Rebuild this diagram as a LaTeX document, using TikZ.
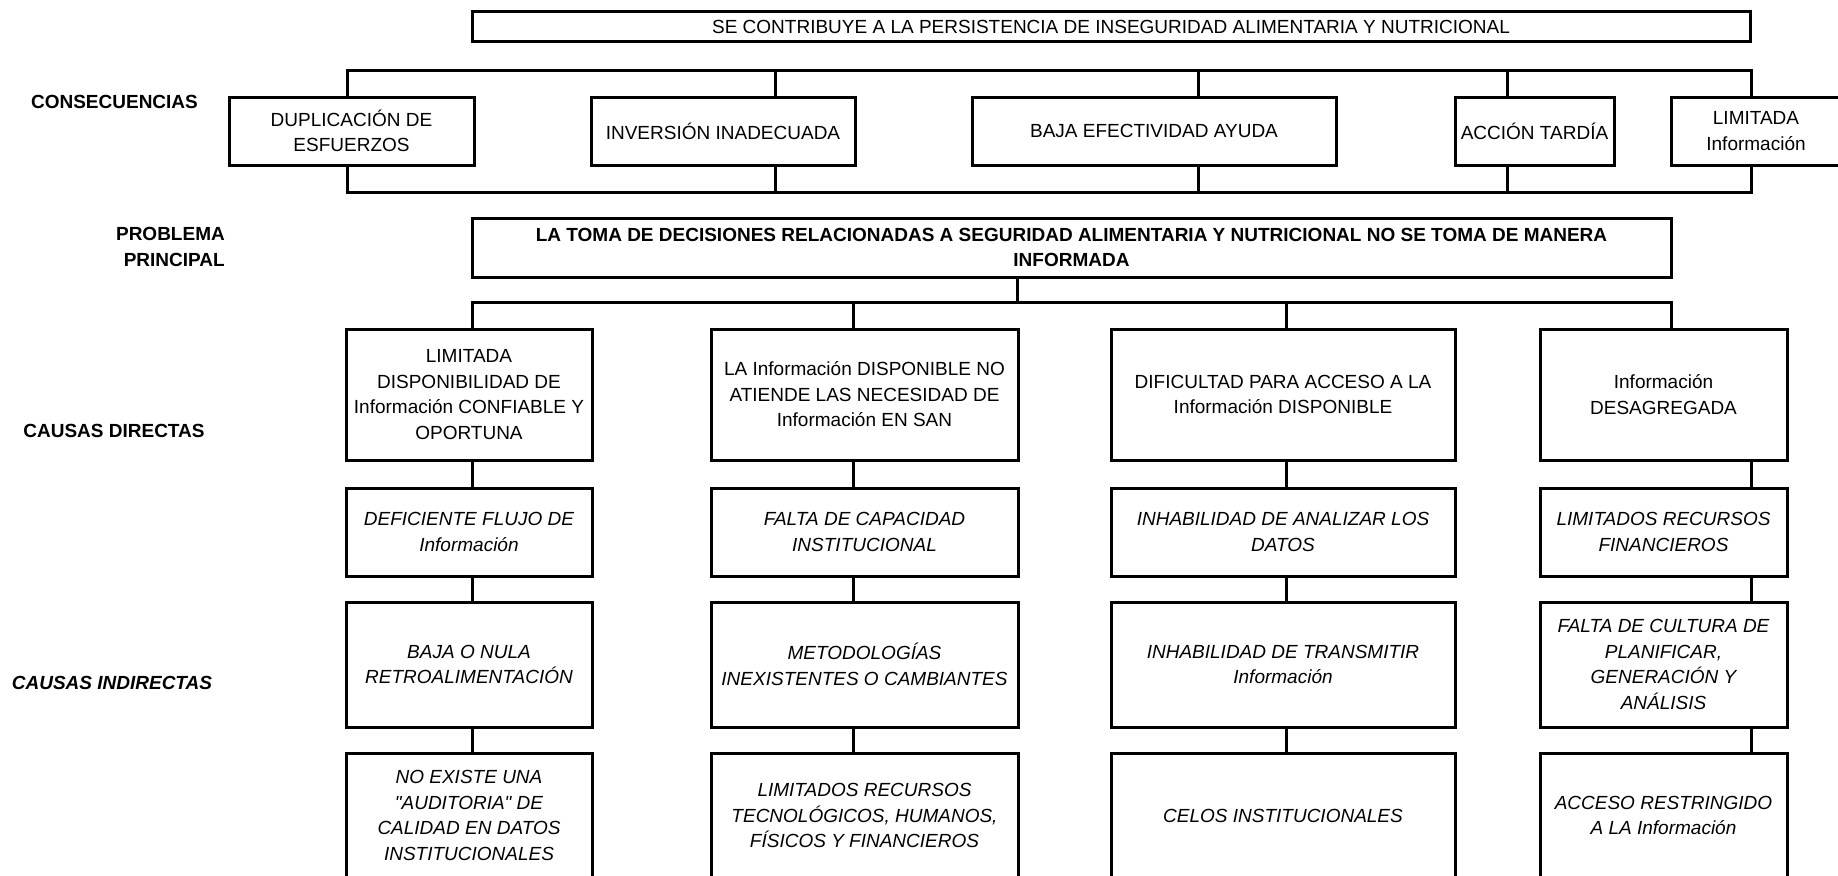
\documentclass[tikz,border=0pt]{standalone}
\usepackage{fontspec}
\setmainfont{Liberation Sans}
\newfontfamily\dgfam{Liberation Sans}
\newcommand{\dgfont}{\dgfam\fontsize{19pt}{25.5pt}\selectfont}
\begin{document}
\begin{tikzpicture}[x=1pt,y=-1pt,
  box/.style={draw, line width=3pt, inner sep=0pt, align=center, font=\dgfont},
  ibox/.style={box, font=\dgfont\itshape},
  bbox/.style={box, font=\dgfont\bfseries},
  lbl/.style={inner sep=0pt, align=center, font=\dgfont\bfseries},
  conn/.style={line width=3pt, line join=miter},
  cons/.style={box, minimum height=68pt},
  r1/.style={box, minimum height=131pt},
  r2/.style={ibox, minimum height=88pt},
  r3/.style={ibox, minimum height=125pt},
  r4/.style={ibox, minimum height=125pt},
  w1/.style={minimum width=246pt},
  w2/.style={minimum width=307pt},
  w3/.style={minimum width=344pt},
  w4/.style={minimum width=247pt}]
\useasboundingbox (0,0) rectangle (1838,875);
\clip (0,0) rectangle (1838,875);

% top consequence
\node[box, minimum width=1278pt, minimum height=30pt] (top) at (1111,27)
  {SE CONTRIBUYE A LA PERSISTENCIA DE INSEGURIDAD ALIMENTARIA Y NUTRICIONAL};

% consequences
\node[cons, minimum width=245pt] (dup)  at (351.5,131) {DUPLICACIÓN DE\\ESFUERZOS};
\node[cons, minimum width=264pt] (inv)  at (723,131)   {INVERSIÓN INADECUADA};
\node[cons, minimum width=364pt] (baja) at (1154,131)  {BAJA EFECTIVIDAD AYUDA};
\node[cons, minimum width=159pt] (acc)  at (1534.5,131){ACCIÓN TARDÍA};
\node[cons, minimum width=170pt] (lim)  at (1756,131)  {LIMITADA\\Información};

% main problem
\node[bbox, minimum width=1199pt, minimum height=59pt] (prob) at (1071.5,247.5)
  {LA TOMA DE DECISIONES RELACIONADAS A SEGURIDAD ALIMENTARIA Y NUTRICIONAL NO SE TOMA DE MANERA\\INFORMADA};

% direct causes
\node[r1, w1] (d1) at (469,394.5)   {LIMITADA\\DISPONIBILIDAD DE\\Información CONFIABLE Y\\OPORTUNA};
\node[r1, w2] (d2) at (864.5,394.5) {LA Información DISPONIBLE NO\\ATIENDE LAS NECESIDAD DE\\Información EN SAN};
\node[r1, w3] (d3) at (1283,394.5)  {DIFICULTAD PARA ACCESO A LA\\Información DISPONIBLE};
\node[r1, w4] (d4) at (1663.5,394.5){Información\\DESAGREGADA};

% indirect causes row 2
\node[r2, w1] (e1) at (469,532)   {DEFICIENTE FLUJO DE\\Información};
\node[r2, w2] (e2) at (864.5,532) {FALTA DE CAPACIDAD\\INSTITUCIONAL};
\node[r2, w3] (e3) at (1283,532)  {INHABILIDAD DE ANALIZAR LOS\\DATOS};
\node[r2, w4] (e4) at (1663.5,532){LIMITADOS RECURSOS\\FINANCIEROS};

% row 3
\node[r3, w1] (f1) at (469,664.5)   {BAJA O NULA\\RETROALIMENTACIÓN};
\node[r3, w2] (f2) at (864.5,664.5) {METODOLOGÍAS\\INEXISTENTES O CAMBIANTES};
\node[r3, w3] (f3) at (1283,664.5)  {INHABILIDAD DE TRANSMITIR\\Información};
\node[r3, w4] (f4) at (1663.5,664.5){FALTA DE CULTURA DE\\PLANIFICAR,\\GENERACIÓN Y\\ANÁLISIS};

% row 4
\node[r4, w1] (g1) at (469,815.5)   {NO EXISTE UNA\\"AUDITORIA" DE\\CALIDAD EN DATOS\\INSTITUCIONALES};
\node[r4, w2] (g2) at (864.5,815.5) {LIMITADOS RECURSOS\\TECNOLÓGICOS, HUMANOS,\\FÍSICOS Y FINANCIEROS};
\node[r4, w3] (g3) at (1283,815.5)  {CELOS INSTITUCIONALES};
\node[r4, w4] (g4) at (1663.5,815.5){ACCESO RESTRINGIDO\\A LA Información};

% row labels
\node[lbl] (lcons) at (114.5,102) {CONSECUENCIAS};
\node[lbl, align=right, anchor=east] (lprob) at (225,247) {PROBLEMA\\PRINCIPAL};
\node[lbl] (ldir) at (114,431) {CAUSAS DIRECTAS};
\node[lbl, font=\dgfont\bfseries\itshape] (lind) at (112,683) {CAUSAS INDIRECTAS};

% consequence brackets
\coordinate (cu1) at (347,70);
\coordinate (cu2) at (775,70);
\coordinate (cu3) at (1198,70);
\coordinate (cu4) at (1507,70);
\coordinate (cu5) at (1751,70);
\coordinate (cl1) at (347,192);
\coordinate (cl2) at (775,192);
\coordinate (cl3) at (1198,192);
\coordinate (cl4) at (1507,192);
\coordinate (cl5) at (1751,192);
\draw[conn] (cu1 |- dup.north) -- (cu1) -- (cu5) -- (cu5 |- lim.north);
\draw[conn] (cu2) -- (cu2 |- inv.north);
\draw[conn] (cu3) -- (cu3 |- baja.north);
\draw[conn] (cu4) -- (cu4 |- acc.north);
\draw[conn] (cl1 |- dup.south) -- (cl1) -- (cl5) -- (cl5 |- lim.south);
\draw[conn] (cl2) -- (cl2 |- inv.south);
\draw[conn] (cl3) -- (cl3 |- baja.south);
\draw[conn] (cl4) -- (cl4 |- acc.south);

% problem to direct causes
\coordinate (pj) at (1017,302.5);
\coordinate (cb1) at (472.5,302.5);
\coordinate (cb2) at (853.5,302.5);
\coordinate (cb3) at (1286,302.5);
\coordinate (cb4) at (1671,302.5);
\coordinate (k4) at (1751,302.5);
\draw[conn] (pj |- prob.south) -- (pj);
\draw[conn] (cb1 |- d1.north) -- (cb1) -- (cb4) -- (cb4 |- d4.north);
\draw[conn] (cb2) -- (cb2 |- d2.north);
\draw[conn] (cb3) -- (cb3 |- d3.north);

% column chains
\foreach \k/\c in {cb1/1, cb2/2, cb3/3, k4/4} {
  \draw[conn] (\k |- d\c.south) -- (\k |- e\c.north);
  \draw[conn] (\k |- e\c.south) -- (\k |- f\c.north);
  \draw[conn] (\k |- f\c.south) -- (\k |- g\c.north);
}
\end{tikzpicture}
\end{document}
